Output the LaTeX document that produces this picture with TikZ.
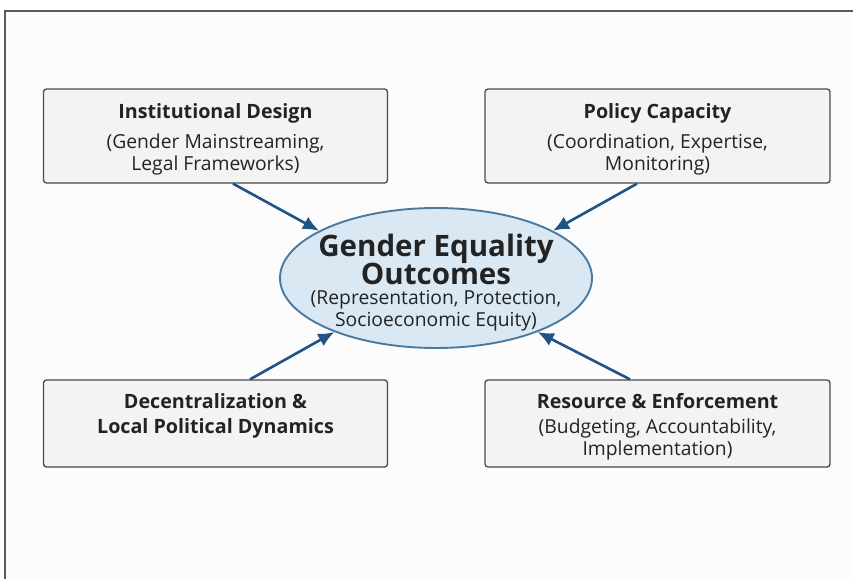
\documentclass[tikz,border=0pt]{standalone}
\usepackage{fontspec}
\setmainfont{Open Sans}
\usetikzlibrary{shapes.geometric,arrows.meta,positioning}

\definecolor{framegray}{HTML}{5A5A5A}
\definecolor{pagefill}{HTML}{FCFCFC}
\definecolor{panelfill}{HTML}{F3F3F4}
\definecolor{paneldraw}{HTML}{4A4A4A}
\definecolor{ovalfill}{HTML}{DAE8F3}
\definecolor{ovaldraw}{HTML}{4B7AA1}
\definecolor{arrowblue}{HTML}{1F5485}
\definecolor{inktext}{HTML}{232323}

\tikzset{
  panel/.style={draw=paneldraw, line width=1.3pt, fill=panelfill,
    rounded corners=3pt, inner sep=0pt},
  paneltext/.style={text=inktext, align=center, inner sep=0pt,
    font=\fontsize{19.3}{22}\selectfont},
  oval/.style={ellipse, draw=ovaldraw, line width=1.9pt, fill=ovalfill,
    minimum width=312pt, minimum height=140pt, inner sep=0pt},
  feed/.style={draw=arrowblue, line width=2.6pt,
    -{Latex[length=16pt,width=14pt]}}
}

\newcommand{\paneltitle}[1]{{\bfseries\fontsize{19.7}{22}\selectfont #1}}
\newcommand{\goaltitle}[1]{{\bfseries\fontsize{29.5}{27}\selectfont #1}}

\begin{document}
\begin{tikzpicture}[x=1pt,y=-1pt]
  \useasboundingbox (0,0) rectangle (853,578);
  \clip (0,0) rectangle (853,578);

  % outer frame
  \draw[framegray, line width=1.8pt, fill=pagefill] (5,11) rectangle (880,620);

  % four panels
  \node[panel, minimum width=344pt, minimum height=94pt] (inst) at (215.5,136) {};
  \node[panel, minimum width=345pt, minimum height=94pt] (cap) at (657.5,136) {};
  \node[panel, minimum width=344pt, minimum height=87pt] (dec) at (215.5,423.5) {};
  \node[panel, minimum width=345pt, minimum height=87pt] (res) at (657.5,423.5) {};

  \node[paneltext, below=15pt of inst.north] {\paneltitle{Institutional Design}\\[8pt]
    (Gender Mainstreaming,\\Legal Frameworks)};
  \node[paneltext, below=15pt of cap.north] {\paneltitle{Policy Capacity}\\[8pt]
    (Coordination, Expertise,\\Monitoring)};
  \node[paneltext, below=14pt of dec.north] {\paneltitle{Decentralization \&}\\[3pt]
    \paneltitle{Local Political Dynamics}};
  \node[paneltext, below=14pt of res.north] {\paneltitle{Resource \& Enforcement}\\[3pt]
    (Budgeting, Accountability,\\Implementation)};

  % central outcome
  \node[oval] (goal) at (436,278) {};
  \node[paneltext, below=27pt of goal.north] {\goaltitle{Gender Equality}\\[-2pt]
    \goaltitle{Outcomes}\\[-2pt]
    (Representation, Protection,\\Socioeconomic Equity)};

  % arrows into the outcome
  \draw[feed] ([xshift=17.5pt]inst.south) -- (goal.158);
  \draw[feed] ([xshift=-20.5pt]cap.south) -- (goal.22);
  \draw[feed] ([xshift=34.5pt]dec.north) -- (goal.208);
  \draw[feed] ([xshift=-27.5pt]res.north) -- (goal.332);
\end{tikzpicture}
\end{document}
